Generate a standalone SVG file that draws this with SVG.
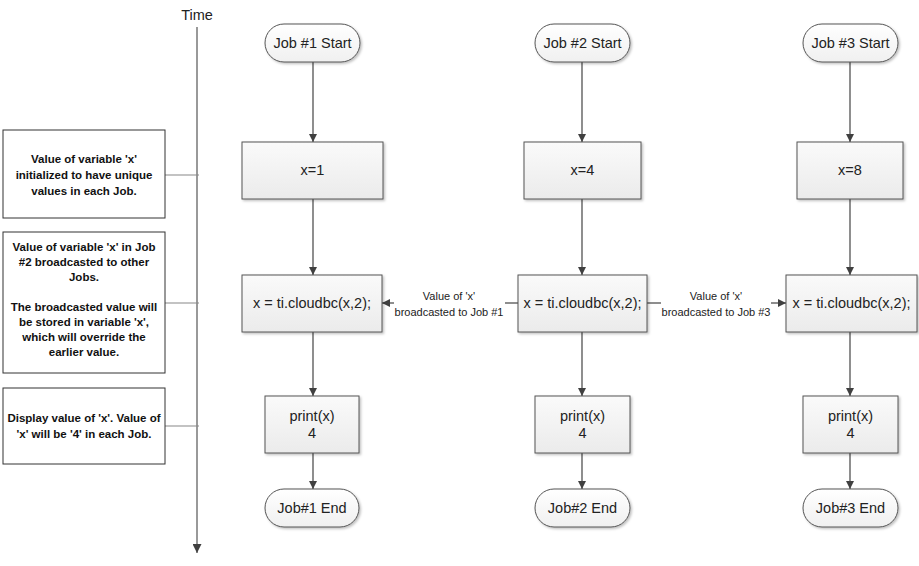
<svg xmlns="http://www.w3.org/2000/svg" width="919" height="566" viewBox="0 0 919 566">
<style>
text{font-family:"Liberation Sans",Arial,sans-serif;fill:#222;text-anchor:middle}
.n{font-size:14.5px}
.lbl{font-size:11px}
.note{font-size:11.5px;font-weight:bold;fill:#111}
.term{fill:url(#gw);stroke:#555;stroke-width:1;filter:url(#sh)}
.proc{fill:url(#gp);stroke:#555;stroke-width:1;filter:url(#sh)}
.nb{fill:#fff;stroke:#333;stroke-width:1}
.c{stroke:#444;stroke-width:1.2;fill:none;marker-end:url(#ah)}
.g{stroke:#888;stroke-width:1.2;fill:none}
.tl{stroke:#999;stroke-width:2;fill:none;marker-end:url(#ah2)}
</style>
<defs>
<linearGradient id="gw" x1="0" y1="0" x2="0" y2="1"><stop offset="0" stop-color="#ffffff"/><stop offset="1" stop-color="#f0f0f0"/></linearGradient>
<linearGradient id="gp" x1="0" y1="0" x2="0" y2="1"><stop offset="0" stop-color="#fafafa"/><stop offset="1" stop-color="#ebebeb"/></linearGradient>
<filter id="sh" x="-10%" y="-10%" width="130%" height="130%"><feDropShadow dx="1.5" dy="1.5" stdDeviation="1" flood-color="#000" flood-opacity="0.25"/></filter>
<marker id="ah" markerWidth="8" markerHeight="8" refX="8" refY="4" orient="auto" markerUnits="userSpaceOnUse"><path d="M0,0 L8,4 L0,8 Z" fill="#404040"/></marker>
<marker id="ah2" markerWidth="9" markerHeight="9" refX="9" refY="4.5" orient="auto" markerUnits="userSpaceOnUse"><path d="M0,0 L9,4.5 L0,9 Z" fill="#404040"/></marker>
</defs>
<rect width="919" height="566" fill="#fff"/>

<g id="timeline">
<text x="197" y="20" class="n">Time</text>
<line x1="197" y1="27" x2="197" y2="553" class="tl"/>
</g>

<g id="connectors">
<line x1="165" y1="175" x2="199" y2="175" class="g"/>
<line x1="165" y1="303" x2="199" y2="303" class="g"/>
<line x1="165" y1="426" x2="199" y2="426" class="g"/>

<line x1="313" y1="62" x2="313" y2="142" class="c"/>
<line x1="313" y1="199" x2="313" y2="275" class="c"/>
<line x1="313" y1="332" x2="313" y2="396" class="c"/>
<line x1="313" y1="453" x2="313" y2="489" class="c"/>

<line x1="582" y1="62" x2="582" y2="142" class="c"/>
<line x1="582" y1="199" x2="582" y2="275" class="c"/>
<line x1="582" y1="332" x2="582" y2="396" class="c"/>
<line x1="582" y1="453" x2="582" y2="489" class="c"/>

<line x1="850" y1="62" x2="850" y2="142" class="c"/>
<line x1="850" y1="199" x2="850" y2="275" class="c"/>
<line x1="850" y1="332" x2="850" y2="396" class="c"/>
<line x1="850" y1="453" x2="850" y2="489" class="c"/>

<line x1="518" y1="303" x2="505" y2="303" stroke="#444" stroke-width="1.2"/>
<line x1="394" y1="303" x2="382" y2="303" class="c"/>
<text x="449" y="300" class="lbl">Value of 'x'</text>
<text x="449" y="316" class="lbl">broadcasted to Job #1</text>

<line x1="647" y1="303" x2="661" y2="303" stroke="#444" stroke-width="1.2"/>
<line x1="771" y1="303" x2="786" y2="303" class="c"/>
<text x="716" y="300" class="lbl">Value of 'x'</text>
<text x="716" y="316" class="lbl">broadcasted to Job #3</text>
</g>

<g id="note1">
<rect x="3" y="130" width="162" height="88" class="nb"/>
<text class="note" x="84" y="163">Value of variable 'x'</text>
<text class="note" x="84" y="179">initialized to have unique</text>
<text class="note" x="84" y="195">values in each Job.</text>
</g>
<g id="note2">
<rect x="3" y="232" width="162" height="141" class="nb"/>
<text class="note" x="84" y="251">Value of variable 'x' in Job</text>
<text class="note" x="84" y="266">#2 broadcasted to other</text>
<text class="note" x="84" y="281">Jobs.</text>
<text class="note" x="84" y="311">The broadcasted value will</text>
<text class="note" x="84" y="326">be stored in variable 'x',</text>
<text class="note" x="84" y="341">which will override the</text>
<text class="note" x="84" y="356">earlier value.</text>
</g>
<g id="note3">
<rect x="3" y="388" width="162" height="76" class="nb"/>
<text class="note" x="84" y="422">Display value of 'x'. Value of</text>
<text class="note" x="84" y="438">'x' will be '4' in each Job.</text>
</g>

<g id="job1start"><rect x="265" y="24" width="95" height="38" rx="19" class="term"/><text class="n" x="312.5" y="48">Job #1 Start</text></g>
<g id="job1init"><rect x="242" y="142" width="141" height="57" class="proc"/><text class="n" x="312.5" y="175">x=1</text></g>
<g id="job1bc"><rect x="242" y="275" width="140" height="57" class="proc"/><text class="n" x="312" y="308">x = ti.cloudbc(x,2);</text></g>
<g id="job1print"><rect x="265" y="396" width="94" height="57" class="proc"/><text class="n" x="312" y="421">print(x)</text><text class="n" x="312" y="438">4</text></g>
<g id="job1end"><rect x="265" y="489" width="94" height="38" rx="19" class="term"/><text class="n" x="312" y="513">Job#1 End</text></g>

<g id="job2start"><rect x="535" y="24" width="95" height="38" rx="19" class="term"/><text class="n" x="582.5" y="48">Job #2 Start</text></g>
<g id="job2init"><rect x="524" y="142" width="117" height="57" class="proc"/><text class="n" x="582.5" y="175">x=4</text></g>
<g id="job2bc"><rect x="518" y="275" width="129" height="57" class="proc"/><text class="n" x="582.5" y="308">x = ti.cloudbc(x,2);</text></g>
<g id="job2print"><rect x="535" y="396" width="95" height="57" class="proc"/><text class="n" x="582.5" y="421">print(x)</text><text class="n" x="582.5" y="438">4</text></g>
<g id="job2end"><rect x="535" y="489" width="95" height="38" rx="19" class="term"/><text class="n" x="582.5" y="513">Job#2 End</text></g>

<g id="job3start"><rect x="803" y="24" width="95" height="38" rx="19" class="term"/><text class="n" x="850.5" y="48">Job #3 Start</text></g>
<g id="job3init"><rect x="797" y="142" width="106" height="57" class="proc"/><text class="n" x="850" y="175">x=8</text></g>
<g id="job3bc"><rect x="786" y="275" width="131" height="57" class="proc"/><text class="n" x="851.5" y="308">x = ti.cloudbc(x,2);</text></g>
<g id="job3print"><rect x="803" y="396" width="95" height="57" class="proc"/><text class="n" x="850.5" y="421">print(x)</text><text class="n" x="850.5" y="438">4</text></g>
<g id="job3end"><rect x="803" y="489" width="95" height="38" rx="19" class="term"/><text class="n" x="850.5" y="513">Job#3 End</text></g>
</svg>
